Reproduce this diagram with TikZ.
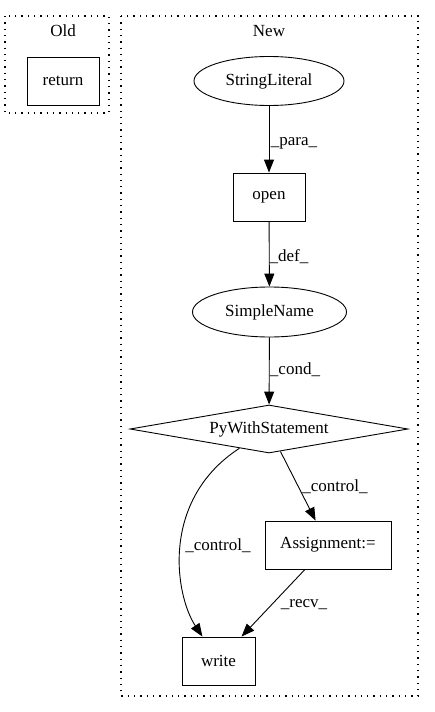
\documentclass[tikz,border=0pt]{standalone}
\usepackage{fontspec}
\setmainfont{Liberation Serif}
\usetikzlibrary{shapes.geometric,arrows.meta}
\begin{document}
\begin{tikzpicture}[x=1pt,y=-1pt,
  every node/.style={font=\fontsize{17}{19}\selectfont},
  box/.style={draw,line width=0.9pt,rectangle,inner sep=0pt},
  oval/.style={draw,line width=0.9pt,ellipse,inner sep=0pt},
  cluster/.style={draw,line width=1.1pt,dash pattern=on 1.3pt off 5pt},
  edge/.style={line width=0.9pt,-{Triangle[length=13pt,width=10pt]}},
  lbl/.style={inner sep=0pt}]
\useasboundingbox[fill=white] (0,0) rectangle (435,712);
% clusters
\draw[cluster] (5,16) rectangle (109,113);
\node[lbl] (oldlbl) at (63,31) {Old};
\draw[cluster] (121,16) rectangle (418,696);
\node[lbl] (newlbl) at (269,31) {New};
% nodes
\node[box,minimum width=72pt,minimum height=48pt] (ret) at (63,81) {return};
\node[oval,minimum width=150pt,minimum height=49pt] (sl) at (269,81) {StringLiteral};
\node[box,minimum width=72pt,minimum height=48pt] (open) at (269,197) {open};
\node[oval,minimum width=154pt,minimum height=50pt] (sn) at (269.5,312) {SimpleName};
\node[draw,line width=0.9pt,diamond,aspect=5.8,inner sep=0pt,minimum width=278pt,minimum height=48pt] (pws) at (269,429) {PyWithStatement};
\node[box,minimum width=126pt,minimum height=48pt] (asg) at (328,545) {Assignment:=};
\node[box,minimum width=73pt,minimum height=48pt] (wr) at (218.5,661) {write};
% edges
\draw[edge] (sl) -- (open);
\node[lbl] (l1) at (294,143) {\_para\_};
\draw[edge] (open) -- (sn);
\node[lbl] (l2) at (289,257) {\_def\_};
\draw[edge] (sn) -- (pws);
\node[lbl] (l3) at (295,370) {\_cond\_};
\draw[edge] (pws) -- (asg);
\node[lbl] (l4) at (335,487) {\_control\_};
\draw[edge] (pws) .. controls (160,500) and (175,595) .. (wr);
\node[lbl] (l5) at (218,546) {\_control\_};
\draw[edge] (asg) -- (wr);
\node[lbl] (l6) at (304,605) {\_recv\_};
\end{tikzpicture}
\end{document}
